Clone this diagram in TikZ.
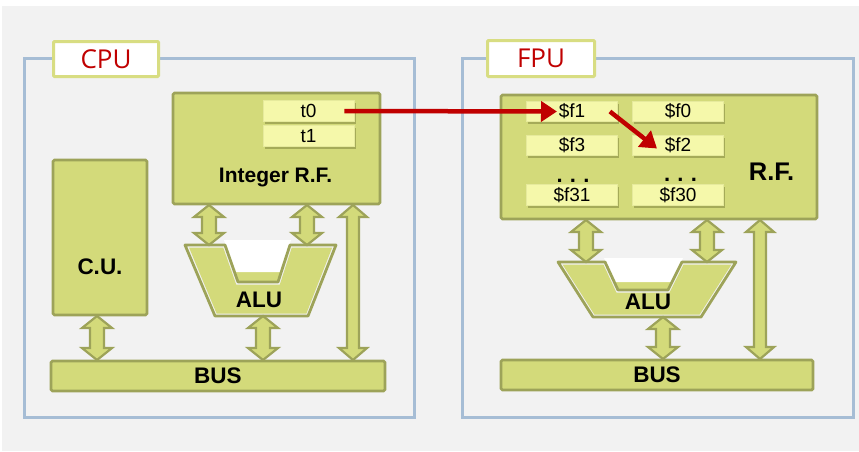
\documentclass[tikz,border=0pt]{standalone}
\usepackage{fontspec}
\setmainfont{Liberation Sans}
\newfontfamily\labfont{Open Sans}
\usetikzlibrary{arrows.meta,shadows}
\definecolor{bggray}{HTML}{F2F2F2}
\definecolor{blockfill}{HTML}{D3DA7A}
\definecolor{blockline}{HTML}{9DA359}
\definecolor{regfill}{HTML}{F5F8AA}
\definecolor{regline}{HTML}{E6EA9C}
\definecolor{shadowcol}{HTML}{6E7230}
\definecolor{outerblue}{HTML}{A6BDD5}
\definecolor{tagline}{HTML}{D8DD82}
\definecolor{cpured}{HTML}{C00000}
\tikzset{
  block/.style={draw=blockline, fill=blockfill, line width=2.8pt, rounded corners=1.5pt, inner sep=0pt},
  reg/.style={draw=regline, line width=0.8pt, fill=regfill, minimum width=91pt, minimum height=20.5pt, inner sep=0pt,
    drop shadow={shadow xshift=1.5pt, shadow yshift=-2.5pt, opacity=0.45, fill=shadowcol},
    font=\fontsize{19}{21}\selectfont},
  outerbox/.style={draw=outerblue, line width=3pt},
  tagbox/.style={draw=tagline, fill=white, line width=3pt, rounded corners=1pt, inner sep=0pt,
    font=\labfont\fontsize{26}{28}\selectfont, text=cpured},
  boldtxt/.style={font=\bfseries\fontsize{22.5}{24}\selectfont, inner sep=0pt},
  dbl/.style={draw=blockline, fill=blockfill, line width=2.2pt, line join=miter},
  redarrow/.style={draw=cpured, line width=4.5pt, -{Triangle[length=16pt,width=20pt]}},
  dots/.style={font=\bfseries\fontsize{22}{22}\selectfont, anchor=base, inner sep=0pt},
}
% double block arrow: x, ytop, ybot, shaft half width, head half width
\newcommand\dblarr[5]{%
  \draw[dbl] (#1-#4,#2+12) -- (#1-#5,#2+12) -- (#1,#2) -- (#1+#5,#2+12) -- (#1+#4,#2+12)
    -- (#1+#4,#3-12) -- (#1+#5,#3-12) -- (#1,#3) -- (#1-#5,#3-12) -- (#1-#4,#3-12) -- cycle;}
\begin{document}
\begin{tikzpicture}[x=1pt,y=-1pt]
\useasboundingbox (0,0) rectangle (859,451);
\fill[white] (0,0) rectangle (859,451);
\fill[bggray] (2,6) rectangle (859,451);

% outer boxes
\draw[outerbox] (24,58) rectangle (414,417);
\draw[outerbox] (462,58) rectangle (853,417);
\node[tagbox, minimum width=105pt, minimum height=35pt] (cputag) at (106,59) {CPU};
\node[tagbox, minimum width=107pt, minimum height=36pt] (fputag) at (541,58.5) {FPU};

% ---------------- CPU ----------------
\dblarr{97}{316}{360}{7}{15}
\dblarr{209}{205}{245}{7}{15}
\dblarr{307}{205}{245}{7}{15}
\dblarr{353}{205}{360}{6}{14}
\dblarr{263}{316}{360}{7}{15}

\node[block, minimum width=94pt, minimum height=155pt] (cu) at (100,237.5) {};
\node[boldtxt] (cutxt) at (100,267) {C.U.};

\node[block, minimum width=207pt, minimum height=111pt] (irf) at (276.5,148.5) {};
\node[font=\bfseries\fontsize{21}{22}\selectfont, inner sep=0pt] (irftxt) at (275.5,177) {Integer R.F.};

\node[reg] (t0) at (308.5,111) {t0};
\node[reg] (t1) at (308.5,136) {t1};

\node[block, minimum width=334pt, minimum height=30pt] (cbus) at (218,376) {};
\node[boldtxt] (cbustxt) at (218,376) {BUS};

% CPU ALU
\fill[blockfill] (225,245) -- (238,282) -- (278,282) -- (290,245) -- cycle;
\fill[white] (224,240) -- (291,240) -- (281,272) -- (234.5,272) -- cycle;
\draw[blockline, line width=2.8pt, line join=round] (185,245) -- (225,245) -- (238,282) -- (278,282) -- (290,245) -- (336,245) -- (308,316) -- (215,316) -- cycle;
\fill[blockfill] (189,247.5) -- (223.2,247.5) -- (236.2,284.5) -- (279.8,284.5) -- (291.8,247.5) -- (332.2,247.5) -- (306.4,313.5) -- (216.6,313.5) -- cycle;
\node[boldtxt] (calu) at (259,300) {ALU};

% ---------------- FPU ----------------
\dblarr{586}{220}{262}{7}{15}
\dblarr{707}{220}{262}{7}{15}
\dblarr{760}{220}{359}{6}{14}
\dblarr{663}{317}{359}{7}{15}

\node[block, minimum width=316pt, minimum height=124pt] (frf) at (659,157) {};
\node[font=\bfseries\fontsize{25.5}{27}\selectfont, inner sep=0pt] (frftxt) at (771.5,172) {R.F.};

\node[reg] (f1) at (572,111.5) {\$f1};
\node[reg] (f0) at (678,111.5) {\$f0};
\node[reg] (f3) at (572,145.5) {\$f3};
\node[reg] (f2) at (678,145.5) {\$f2};
\node[reg] (f31) at (572,195) {\$f31};
\node[reg] (f30) at (678,195) {\$f30};
\node[dots] (d1) at (573,182.5) {.\,\,.\,\,.};
\node[dots] (d2) at (680.5,181) {.\,\,.\,\,.};

\node[block, minimum width=312pt, minimum height=30pt] (fbus) at (657,375) {};
\node[boldtxt] (fbustxt) at (657,375) {BUS};

% FPU ALU
\fill[blockfill] (605,262) -- (618,290) -- (668,290) -- (682,262) -- cycle;
\fill[white] (604,258) -- (683,258) -- (672,282) -- (614.3,282) -- cycle;
\draw[blockline, line width=2.8pt, line join=round] (558,262) -- (605,262) -- (618,290) -- (668,290) -- (682,262) -- (736,262) -- (701,317) -- (593,317) -- cycle;
\fill[blockfill] (562.5,264.5) -- (603.4,264.5) -- (616.4,292.5) -- (669.6,292.5) -- (683.6,264.5) -- (731.5,264.5) -- (699.6,314.5) -- (594.4,314.5) -- cycle;
\node[boldtxt] (falu) at (648,302) {ALU};

% red arrows
\draw[redarrow] ([xshift=-10pt]t0.east) -- ([xshift=-15pt]f1.center);
\draw[redarrow] ([xshift=-8pt]f1.east) -- ([xshift=-21pt,yshift=-3pt]f2.center);
\end{tikzpicture}
\end{document}
